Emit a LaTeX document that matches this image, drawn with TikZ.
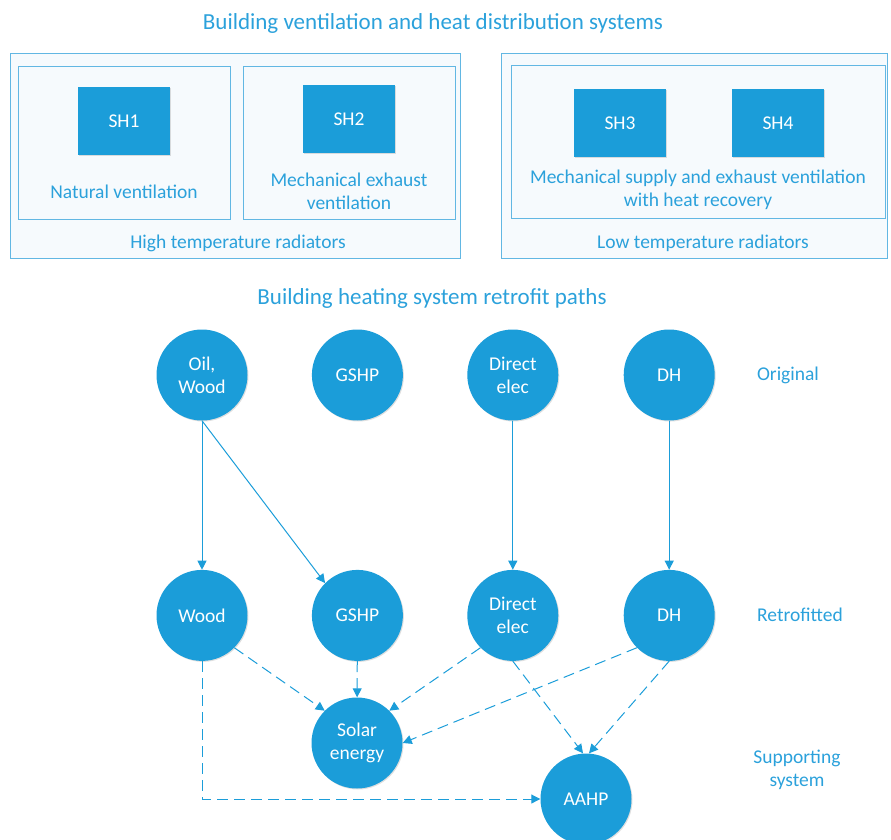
\documentclass[tikz,border=0pt]{standalone}
\usepackage{fontspec}
\setmainfont{Carlito}
\usepackage{xcolor}
\usetikzlibrary{arrows.meta,positioning,shadows}

\definecolor{hsblue}{HTML}{1B9DD9}
\definecolor{hstext}{HTML}{2BA1DB}
\definecolor{hsframe}{HTML}{62B7E3}
\definecolor{hspale}{HTML}{F6FAFD}

\begin{document}
\begin{tikzpicture}[x=1pt, y=-1pt, >={Triangle[length=9pt,width=9pt]}, font=\fontsize{19.5}{23}\selectfont]
    \tikzstyle{frame} = [rectangle, draw=hsframe, line width=1pt, fill=hspale, inner sep=0pt]
    \tikzstyle{shbox} = [rectangle, fill=hsblue, text=white, minimum width=92pt, minimum height=68pt, drop shadow={opacity=0.25, shadow xshift=1pt, shadow yshift=-1pt}]
    \tikzstyle{state} = [circle, fill=hsblue, text=white, minimum size=91pt, inner sep=0pt, align=center, drop shadow={opacity=0.25, shadow xshift=1pt, shadow yshift=-1pt}]
    \tikzstyle{lbl} = [text=hstext, align=center]
    \tikzstyle{title} = [lbl, font=\fontsize{23}{27}\selectfont]
    \tikzstyle{line} = [draw=hsblue, line width=1pt, ->]
    \tikzstyle{dline} = [line, dash pattern=on 11pt off 6pt]

    \useasboundingbox (0,0) rectangle (891,840);

    % ventilation and heat distribution
    \node [title] (ventitle) at (433,23) {Building ventilation and heat distribution systems};
    \node [frame, minimum width=450pt, minimum height=204pt] (hiframe) at (235,156) {};
    \node [frame, minimum width=386pt, minimum height=204pt] (loframe) at (694,156) {};
    \node [frame, minimum width=212pt, minimum height=152pt] (natframe) at (124,143) {};
    \node [frame, minimum width=212pt, minimum height=152pt] (mexframe) at (349,143) {};
    \node [frame, minimum width=374pt, minimum height=152pt] (msxframe) at (698,142) {};

    \node [shbox] (sh1) at (124,121) {SH1};
    \node [shbox] (sh2) at (349,119) {SH2};
    \node [shbox] (sh3) at (620,123) {SH3};
    \node [shbox] (sh4) at (778,123) {SH4};

    \node [lbl] (natlbl) at (124,192) {Natural ventilation};
    \node [lbl] (mexlbl) at (349,191) {Mechanical exhaust\\ventilation};
    \node [lbl] (msxlbl) at (698,190) {Mechanical supply and exhaust ventilation\\with heat recovery};
    \node [lbl] (hilbl) at (238,243) {High temperature radiators};
    \node [lbl] (lolbl) at (703,243) {Low temperature radiators};

    % retrofit paths
    \node [title] (rettitle) at (432,298) {Building heating system retrofit paths};

    \node [state] (oil) at (202,375) {Oil,\\Wood};
    \node [state, right=64pt of oil] (gshp1) {GSHP};
    \node [state, right=64pt of gshp1] (de1) {Direct\\elec};
    \node [state, right=65pt of de1] (dh1) {DH};

    \node [state, below=149pt of oil] (wood2) {Wood};
    \node [state, below=149pt of gshp1] (gshp2) {GSHP};
    \node [state, below=149pt of de1] (de2) {Direct\\elec};
    \node [state, below=149pt of dh1] (dh2) {DH};

    \node [state] (solar) at (357,743) {Solar\\energy};
    \node [state] (aahp) at (586,799) {AAHP};

    \node [lbl] (orig) at (788,375) {Original};
    \node [lbl] (retro) at (800,615) {Retrofitted};
    \node [lbl] (supp) at (797,770) {Supporting\\system};

    \draw [line] (oil) -- (wood2);
    \draw [line] (oil.south) -- (gshp2.north west);
    \draw [line] (de1) -- (de2);
    \draw [line] (dh1) -- (dh2);

    \draw [dline] (wood2.south) |- (aahp.west);
    \draw [dline] (wood2.south east) -- (solar.north west);
    \draw [dline] (gshp2) -- (solar);
    \draw [dline] (de2.south west) -- (solar.north east);
    \draw [dline] (de2.south) -- ([xshift=-3pt]aahp.north);
    \draw [dline] (dh2.south west) -- (solar.east);
    \draw [dline] (dh2.south) -- ([xshift=3pt]aahp.north);
\end{tikzpicture}
\end{document}
